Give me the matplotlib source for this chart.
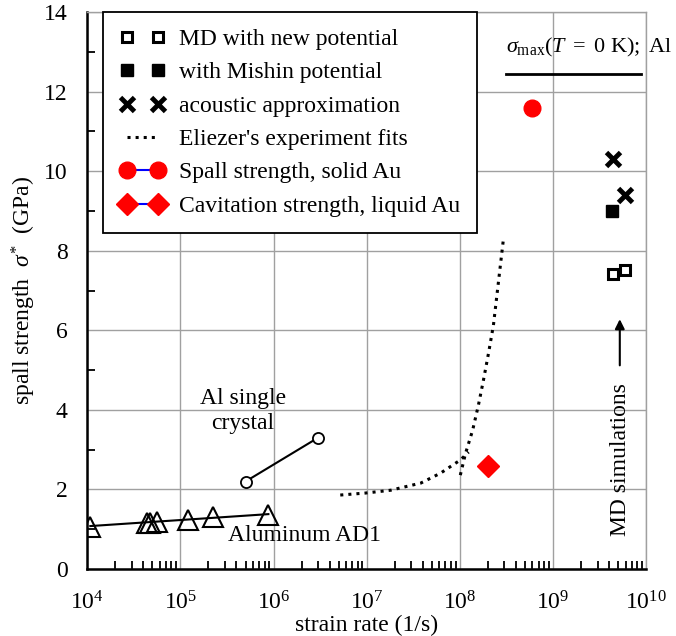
import numpy as np
import matplotlib
matplotlib.use("Agg")
from matplotlib import pyplot as plt
from matplotlib.ticker import FixedLocator, MultipleLocator, NullFormatter

plt.rcParams['font.family'] = 'Liberation Serif'
plt.rcParams['mathtext.fontset'] = 'custom'
plt.rcParams['mathtext.rm'] = 'Liberation Serif'
plt.rcParams['mathtext.it'] = 'Liberation Serif:italic'

# Aluminum AD1 (experiment) and its linear fit
ad1_rate = [1.08e4, 4.4e4, 4.75e4, 5.65e4, 1.22e5, 2.25e5, 8.8e5]
ad1_sigma = [1.05, 1.15, 1.15, 1.18, 1.23, 1.30, 1.36]
ad1_fit_rate = [1.08e4, 8.8e5]
ad1_fit_sigma = [1.08, 1.38]

# Al single crystal
sc_rate = [5.0e5, 3.0e6]
sc_sigma = [2.2, 3.3]

# Eliezer's experiment fits (two branches)
el1_rate = [5.2e6, 9.7e6, 1.8e7, 3.8e7, 6.2e7, 1.01e8, 1.24e8]
el1_sigma = [1.86, 1.91, 1.98, 2.16, 2.41, 2.74, 2.94]
el2_rate = [1.01e8, 1.15e8, 1.37e8, 1.58e8, 1.79e8, 2.03e8, 2.29e8, 2.94e8]
el2_sigma = [2.36, 2.91, 3.49, 4.12, 4.75, 5.43, 6.13, 8.32]

# MD simulations
md_new_rate = [4.4e9, 5.9e9]
md_new_sigma = [7.41, 7.51]
md_mishin_rate = [4.3e9]
md_mishin_sigma = [9.0]
acoustic_rate = [4.4e9, 5.9e9]
acoustic_sigma = [10.3, 9.4]

# Au
solid_au_rate = [5.9e8]
solid_au_sigma = [11.6]
liquid_au_rate = [2.0e8]
liquid_au_sigma = [2.6]

decades = [1e4, 1e5, 1e6, 1e7, 1e8, 1e9, 1e10]

fig = plt.figure(figsize=(6.76, 6.36), dpi=100)
ax = fig.add_axes([0.129, 0.1053, 0.827, 0.8757])

ax.plot(md_new_rate, md_new_sigma, ls='none', marker='s', ms=7, mfc='white',
        mec='black', mew=2.2, label='MD with new potential')
ax.plot(md_mishin_rate, md_mishin_sigma, ls='none', marker='s', ms=8,
        color='black', label='with Mishin potential')
ax.plot(acoustic_rate, acoustic_sigma, ls='none', marker='x', ms=10, mew=3.5,
        color='black', label='acoustic approximation')
ax.plot(el1_rate, el1_sigma, ls=':', lw=2.2, color='black',
        label="Eliezer's experiment fits")
ax.plot(el2_rate, el2_sigma, ls=':', lw=2.2, color='black')
ax.plot(solid_au_rate, solid_au_sigma, color='blue', lw=1.5, marker='o', ms=12,
        mfc='red', mec='red', label='Spall strength, solid Au')
ax.plot(liquid_au_rate, liquid_au_sigma, color='blue', lw=1.5, marker='D', ms=11,
        mfc='red', mec='red', label='Cavitation strength, liquid Au')

ax.plot(ad1_fit_rate, ad1_fit_sigma, color='black', lw=1.5)
ax.plot(ad1_rate, ad1_sigma, ls='none', marker='^', ms=14, mfc='none',
        mec='black', mew=1.5)
ax.plot(sc_rate, sc_sigma, color='black', lw=1.5, marker='o', ms=8,
        mfc='white', mec='black', mew=1.3)

ax.set_xscale('log')
ax.set_xlim(1e4, 1e10)
ax.set_ylim(0, 14)
ax.yaxis.set_major_locator(MultipleLocator(2))
ax.yaxis.set_minor_locator(MultipleLocator(1))
ax.xaxis.set_major_locator(FixedLocator(decades))
minor = [d * k for d in decades[:-1] for k in range(2, 10)]
ax.xaxis.set_minor_locator(FixedLocator(minor))
ax.xaxis.set_minor_formatter(NullFormatter())

ax.grid(True, which='major', color='#a0a0a0', lw=1)
ax.set_axisbelow(True)
for side in ['top', 'right']:
    ax.spines[side].set_color('#a0a0a0')
    ax.spines[side].set_linewidth(1)
for side in ['left', 'bottom']:
    ax.spines[side].set_linewidth(1.8)
ax.tick_params(which='both', direction='in', top=False, right=False,
               labelsize=17, width=1.3)
ax.tick_params(which='major', length=0, pad=14)
ax.tick_params(which='minor', length=6)
ax.tick_params(axis='x', which='major', pad=16)

ax.set_xlabel('strain rate (1/s)', fontsize=17, labelpad=0)
ax.set_ylabel(r'spall strength  $\sigma^{*}$  (GPa)', fontsize=17, labelpad=4)

ax.text(4.7e5, 3.97, 'Al single\ncrystal', ha='center', va='center',
        fontsize=17, linespacing=1.2)
ax.text(2.15e6, 0.85, 'Aluminum AD1', ha='center', va='center', fontsize=17)

ax.text(3.1e8, 13.1, r'$\sigma_{\mathrm{max}}(T\ =\ 0\ \mathrm{K});\ \mathrm{Al}$',
        ha='left', va='center', fontsize=16, clip_on=False)
ax.plot([3.1e8, 8.7e9], [12.45, 12.45], color='black', lw=2, clip_on=False)

ax.text(5.3e9, 2.75, 'MD simulations', rotation=90, ha='center', va='center',
        fontsize=17)
ax.annotate('', xy=(5.2e9, 6.35), xytext=(5.2e9, 5.05),
            arrowprops=dict(arrowstyle='-|>', color='black', lw=1.5,
                            mutation_scale=14))

leg = ax.legend(loc='upper left', bbox_to_anchor=(0.029, 1.0), borderaxespad=0,
                numpoints=2, fontsize=17, fancybox=False, framealpha=1,
                edgecolor='black', handlelength=1.9, labelspacing=0.5,
                handletextpad=0.6, borderpad=0.7)
leg.get_frame().set_linewidth(1.3)

fig.savefig('out.png', dpi=100)
